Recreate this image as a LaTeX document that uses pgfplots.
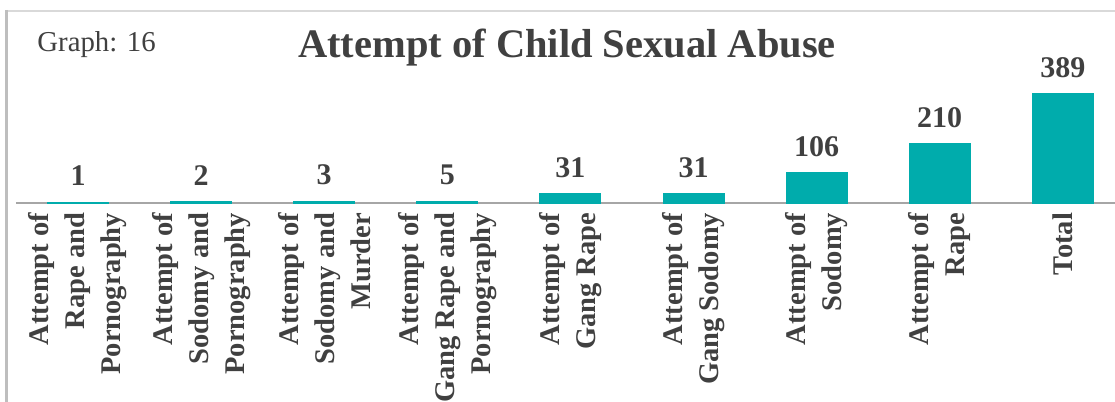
\documentclass[border=0pt]{standalone}
\usepackage{fontspec}
\setmainfont{Liberation Serif}
\usepackage{pgfplots}
\pgfplotsset{compat=1.18}
\definecolor{barc}{RGB}{0,172,172}
\definecolor{txt}{RGB}{64,64,64}
\definecolor{axg}{RGB}{166,166,166}
\begin{document}
\begin{tikzpicture}
\useasboundingbox (0,0) rectangle (557.5pt,201pt);
\draw[draw={rgb,255:red,217;green,217;blue,217}, line width=0.6pt] (3.25pt,195.5pt) -- (560pt,195.5pt);
\draw[draw={rgb,255:red,190;green,190;blue,190}, line width=1.1pt] (3.25pt,196pt) -- (3.25pt,-5pt);
\node[anchor=base, text=txt, font=\fontsize{20.25}{24}\selectfont\bfseries, inner sep=0pt] at (283.5pt,172.25pt) {Attempt of Child Sexual Abuse};
\node[anchor=base west, text=txt, font=\fontsize{14.4}{17}\selectfont, inner sep=0pt] at (18.5pt,175pt) {Graph: 16};
\begin{axis}[
  at={(8pt,99.5pt)}, anchor=south west,
  scale only axis, width=549.5pt, height=54.35pt,
  xmin=-0.504, xmax=8.424, ymin=0, ymax=389,
  clip=false,
  /pgf/number format/assume math mode=true,
  axis x line=bottom, axis y line=none,
  x axis line style={draw=axg, line width=1pt, -},
  xtick={0,...,8}, xtick style={draw=none},
  xticklabels={{Attempt of\\Rape and\\Pornography},{Attempt of\\Sodomy and\\Pornography},{Attempt of\\Sodomy and\\Murder},{Attempt of\\Gang Rape and\\Pornography},{Attempt of\\Gang Rape},{Attempt of\\Gang Sodomy},{Attempt of\\Sodomy},{Attempt of\\Rape},{Total}},
  xticklabel style={rotate=90, anchor=east, align=right, inner sep=0pt, text=txt, font=\fontsize{14.25}{18}\selectfont\bfseries},
  xticklabel shift=0.5pt,
  ybar, bar width=30pt,
  nodes near coords,
  every node near coord/.append style={anchor=south, inner sep=0pt, yshift=8pt, text=txt, font=\fontsize{15}{18}\selectfont\bfseries},
]
\addplot[fill=barc, draw=barc, line width=1pt] coordinates {(0,1) (1,2) (2,3) (3,5) (4,31) (5,31) (6,106) (7,210) (8,389)};
\end{axis}
\end{tikzpicture}
\end{document}
